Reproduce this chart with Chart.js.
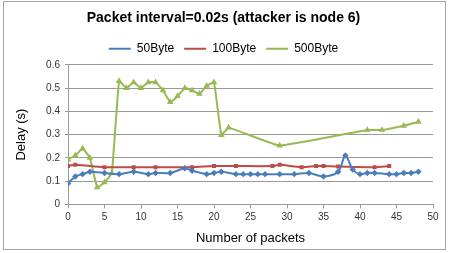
<!DOCTYPE html>
<html><head><meta charset="utf-8">
<script src="https://cdn.jsdelivr.net/npm/chart.js@4/dist/chart.umd.min.js"></script>
<style>
html,body{margin:0;padding:0;background:#fff;}
#wrap{position:relative;width:449px;height:253px;}
#frame{position:absolute;left:3px;top:1px;width:441px;height:247px;border:1px solid #a6a6a6;pointer-events:none;}
canvas{position:absolute;left:0;top:0;}
</style></head>
<body>
<div id="wrap"><canvas id="c" width="449" height="253"></canvas><div id="frame"></div></div>
<script>
const xTicks = [0,5,10,15,20,25,30,35,40,45,50];
const yTicks = [0,0.1,0.2,0.3,0.4,0.5,0.6];

const x50 = [0,1,2,3,5,7,9,11,12,14,16,17,19,20,21,23,24,25,26,27,29,31,33,35,37,38,39,40,41,42,44,45,46,47,48];
const y50 = [0.09,0.12,0.13,0.14,0.135,0.13,0.14,0.13,0.135,0.135,0.155,0.145,0.13,0.135,0.14,0.13,0.13,0.13,0.13,0.13,0.13,0.13,0.135,0.12,0.14,0.21,0.15,0.13,0.135,0.135,0.13,0.13,0.135,0.135,0.14];

const x100 = [0,1,5,9,12,17,20,23,28,29,32,34,35,37,42,44];
const y100 = [0.165,0.17,0.16,0.16,0.16,0.16,0.165,0.165,0.165,0.17,0.16,0.165,0.165,0.163,0.16,0.165];

const x500 = [0,1,2,3,4,5,6,7,8,9,10,11,12,13,14,15,16,17,18,19,20,21,22,29,41,43,46,48];
const y500 = [0.193,0.21,0.24,0.2,0.073,0.095,0.135,0.53,0.5,0.525,0.5,0.525,0.525,0.49,0.44,0.465,0.5,0.49,0.475,0.51,0.525,0.298,0.33,0.253,0.32,0.32,0.338,0.355];

function pts(xs, ys){ return xs.map((x,i)=>({x:x,y:ys[i]})); }

const font = "'Liberation Sans', Arial, sans-serif";

new Chart(document.getElementById('c'), {
  type: 'scatter',
  data: {
    datasets: [
      {label:'50Byte', data: pts(x50,y50), showLine:true, borderColor:'#4a7ebb', backgroundColor:'#4a7ebb', borderWidth:2, pointStyle:'rectRot', pointRadius:1.8, tension:0.3},
      {label:'100Byte', data: pts(x100,y100), showLine:true, borderColor:'#be4b48', backgroundColor:'#be4b48', borderWidth:2, pointStyle:'rect', pointRadius:1.4, tension:0.3},
      {label:'500Byte', data: pts(x500,y500), showLine:true, borderColor:'#98b954', backgroundColor:'#98b954', borderWidth:2, pointStyle:'triangle', pointRadius:1.8, tension:0.1}
    ]
  },
  options: {
    responsive:false, animation:false,
    layout:{padding:{left:14,right:16,top:2,bottom:7}},
    plugins:{
      title:{display:true, text:'Packet interval=0.02s (attacker is node 6)', color:'#000', font:{family:font, size:14, weight:'bold'}, padding:{top:8,bottom:6}},
      legend:{display:true, position:'top', labels:{color:'#000', font:{family:font,size:12}, boxWidth:22, boxHeight:2, padding:10,
        generateLabels(chart){
          return chart.data.datasets.map((d,i)=>({text:d.label, fillStyle:d.borderColor, strokeStyle:d.borderColor, lineWidth:0, hidden:false, datasetIndex:i, fontColor:'#000'}));
        }}},
      tooltip:{enabled:false}
    },
    scales:{
      x:{type:'linear', min:0, max:50,
        afterBuildTicks(s){ s.ticks = xTicks.map(v=>({value:v})); },
        ticks:{color:'#333', font:{family:font,size:10}, padding:3},
        grid:{drawOnChartArea:false, drawTicks:true, tickLength:4, tickColor:'#999'},
        border:{display:true, color:'#999'},
        title:{display:true, text:'Number of packets', color:'#000', font:{family:font,size:13}, padding:{top:4,bottom:0}}
      },
      y:{type:'linear', min:0, max:0.6,
        afterBuildTicks(s){ s.ticks = yTicks.map(v=>({value:v})); },
        afterFit(s){ s.width = 54; },
        ticks:{color:'#333', font:{family:font,size:10}, padding:5, callback:v=>String(v)},
        grid:{color:'#9a9a9a', lineWidth:1, drawTicks:true, tickLength:3, tickColor:'#999'},
        border:{display:true, color:'#999'},
        title:{display:true, text:'Delay (s)', color:'#000', font:{family:font,size:13}, padding:{top:0,bottom:4}}
      }
    }
  }
});
</script>
</body></html>
